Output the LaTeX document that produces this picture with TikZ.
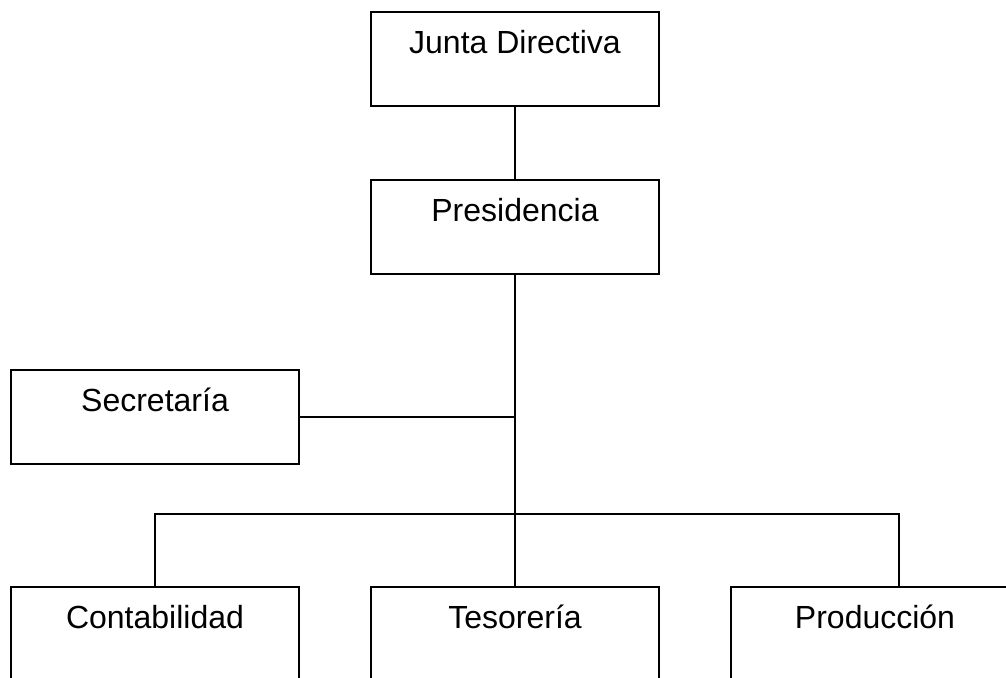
\documentclass[tikz,border=0pt]{standalone}
\usepackage{fontspec}
\setmainfont{Liberation Sans}
\begin{document}
\begin{tikzpicture}[x=1pt,y=-1pt,
  box/.style={draw, line width=2pt, rectangle, minimum width=288pt, inner xsep=0pt, inner ysep=0pt,
    text height=41pt, text depth=53pt, font=\fontsize{32}{38}\selectfont},
  lowbox/.style={box, text depth=79pt},
  conn/.style={line width=2pt}]
\useasboundingbox (0,0) rectangle (1006,677);
\clip (0,0) rectangle (1006,677);
\node[box] (junta) at (515,59) {Junta Directiva};
\node[box] (pres) at (515,227) {Presidencia};
\node[box] (sec) at (155,417) {Secretaría};
\node[lowbox, anchor=north] (cont) at (155,586) {Contabilidad};
\node[lowbox, anchor=north] (tes) at (515,586) {Tesorería};
\node[lowbox, anchor=north] (prod) at (875,586) {Producción};
\coordinate (bar) at (515,514);
\coordinate (pc) at (899,586);
\draw[conn] (junta.south) -- (pres.north);
\draw[conn] (pres.south) -- (tes.north);
\draw[conn] (sec.east) -- (sec.east -| pres.south);
\draw[conn] (cont.north) |- (bar) -| (pc);
\end{tikzpicture}
\end{document}
